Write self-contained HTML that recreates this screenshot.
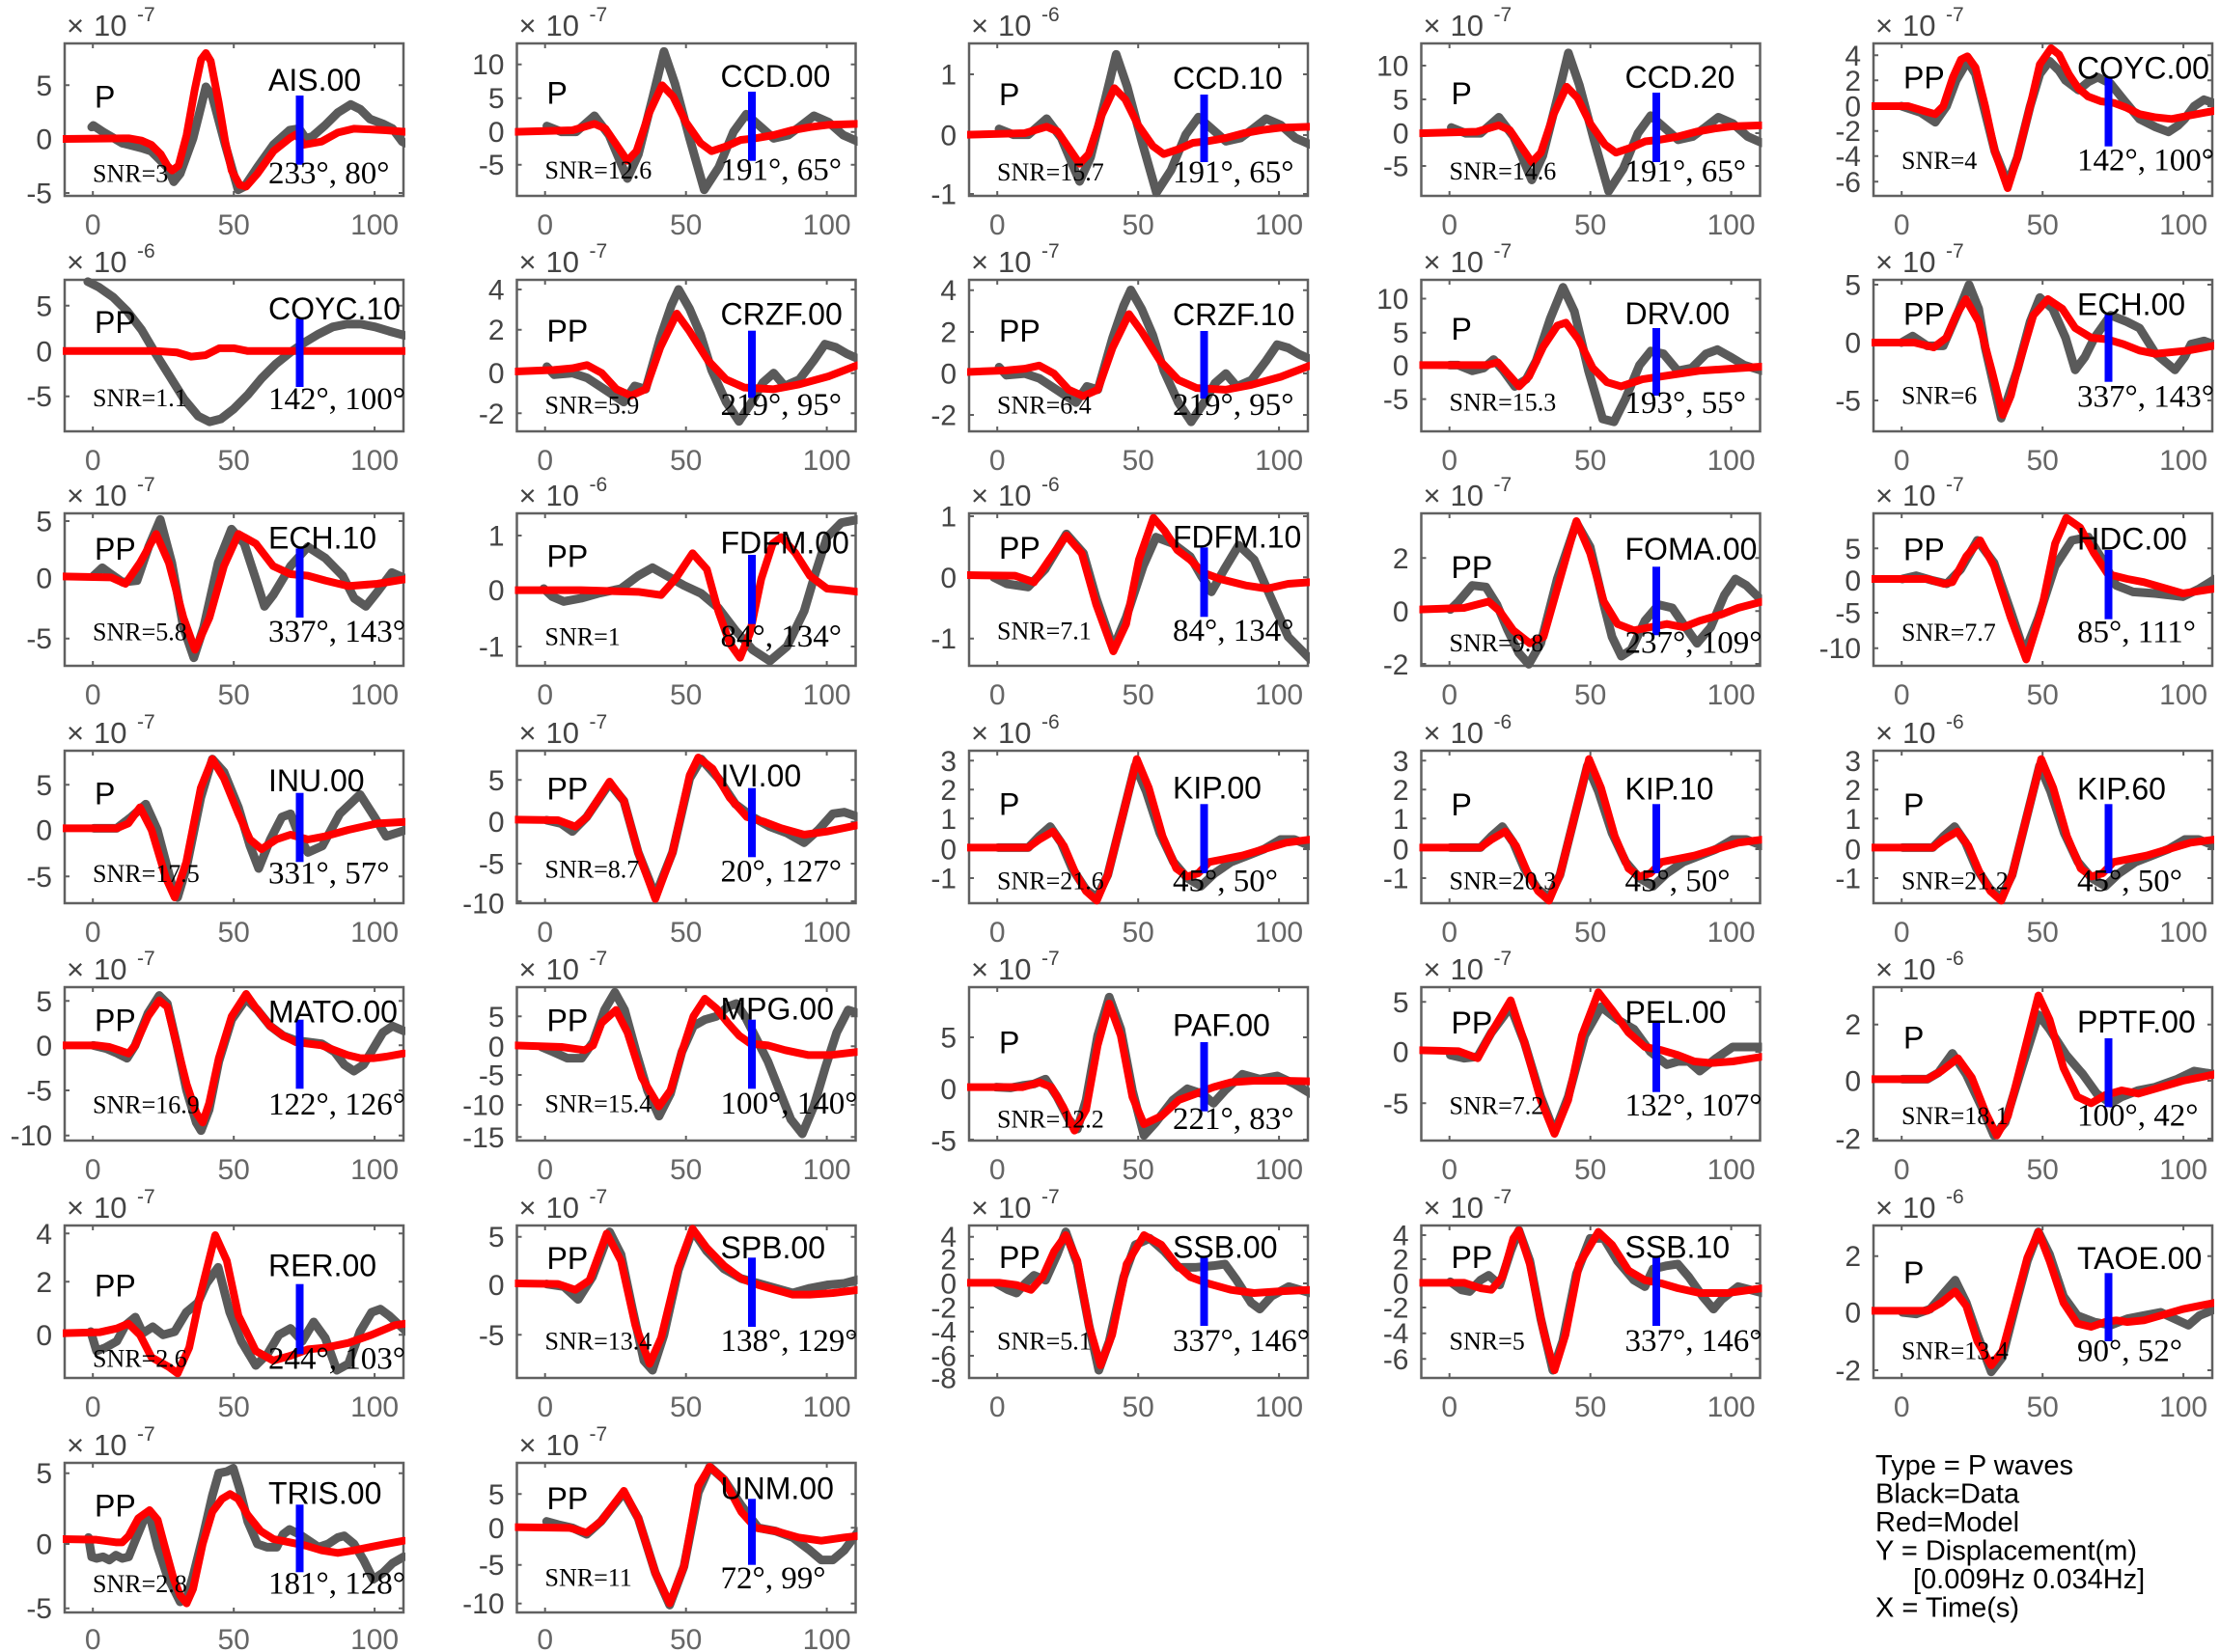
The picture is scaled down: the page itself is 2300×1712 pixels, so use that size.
<!DOCTYPE html>
<html><head><meta charset="utf-8">
<style>
html,body{margin:0;padding:0;background:#fff}
svg{display:block}
.g{fill:none;stroke:#5a5a5a;stroke-width:9;stroke-linejoin:round;stroke-linecap:round;vector-effect:non-scaling-stroke}
.r{fill:none;stroke:#ff0000;stroke-width:8;stroke-linejoin:round;stroke-linecap:round;vector-effect:non-scaling-stroke}
.bx{fill:none;stroke:#606060;stroke-width:2.5}
.tm{fill:none;stroke:#606060;stroke-width:2}
.bl{fill:#0000ff}
.yl{font-family:"Liberation Sans",sans-serif;font-size:30px;fill:#444;text-anchor:end}
.xl{font-family:"Liberation Sans",sans-serif;font-size:30px;fill:#666;text-anchor:middle}
.e1{font-family:"Liberation Sans",sans-serif;font-size:31px;fill:#444}
.e2{font-family:"Liberation Sans",sans-serif;font-size:21px;fill:#444}
.nm{font-family:"Liberation Sans",sans-serif;font-size:32px;fill:#000}
.sn{font-family:"Liberation Serif",serif;font-size:26px;fill:#000}
.az{font-family:"Liberation Serif",serif;font-size:33px;fill:#000}
.lg{font-family:"Liberation Sans",sans-serif;font-size:29px;fill:#000}
</style></head><body>
<svg width="2300" height="1712" viewBox="0 0 2300 1712" xmlns="http://www.w3.org/2000/svg">
<rect width="2300" height="1712" fill="#fff"/>
<defs>
<clipPath id="k00"><rect x="65" y="42" width="355" height="164"/></clipPath>
<clipPath id="k01"><rect x="533.5" y="42" width="355" height="164"/></clipPath>
<clipPath id="k02"><rect x="1002" y="42" width="355" height="164"/></clipPath>
<clipPath id="k03"><rect x="1470.5" y="42" width="355" height="164"/></clipPath>
<clipPath id="k04"><rect x="1939" y="42" width="355" height="164"/></clipPath>
<clipPath id="k10"><rect x="65" y="287" width="355" height="163"/></clipPath>
<clipPath id="k11"><rect x="533.5" y="287" width="355" height="163"/></clipPath>
<clipPath id="k12"><rect x="1002" y="287" width="355" height="163"/></clipPath>
<clipPath id="k13"><rect x="1470.5" y="287" width="355" height="163"/></clipPath>
<clipPath id="k14"><rect x="1939" y="287" width="355" height="163"/></clipPath>
<clipPath id="k20"><rect x="65" y="529" width="355" height="164"/></clipPath>
<clipPath id="k21"><rect x="533.5" y="529" width="355" height="164"/></clipPath>
<clipPath id="k22"><rect x="1002" y="529" width="355" height="164"/></clipPath>
<clipPath id="k23"><rect x="1470.5" y="529" width="355" height="164"/></clipPath>
<clipPath id="k24"><rect x="1939" y="529" width="355" height="164"/></clipPath>
<clipPath id="k30"><rect x="65" y="775" width="355" height="164"/></clipPath>
<clipPath id="k31"><rect x="533.5" y="775" width="355" height="164"/></clipPath>
<clipPath id="k32"><rect x="1002" y="775" width="355" height="164"/></clipPath>
<clipPath id="k33"><rect x="1470.5" y="775" width="355" height="164"/></clipPath>
<clipPath id="k34"><rect x="1939" y="775" width="355" height="164"/></clipPath>
<clipPath id="k40"><rect x="65" y="1020" width="355" height="165"/></clipPath>
<clipPath id="k41"><rect x="533.5" y="1020" width="355" height="165"/></clipPath>
<clipPath id="k42"><rect x="1002" y="1020" width="355" height="165"/></clipPath>
<clipPath id="k43"><rect x="1470.5" y="1020" width="355" height="165"/></clipPath>
<clipPath id="k44"><rect x="1939" y="1020" width="355" height="165"/></clipPath>
<clipPath id="k50"><rect x="65" y="1267" width="355" height="164"/></clipPath>
<clipPath id="k51"><rect x="533.5" y="1267" width="355" height="164"/></clipPath>
<clipPath id="k52"><rect x="1002" y="1267" width="355" height="164"/></clipPath>
<clipPath id="k53"><rect x="1470.5" y="1267" width="355" height="164"/></clipPath>
<clipPath id="k54"><rect x="1939" y="1267" width="355" height="164"/></clipPath>
<clipPath id="k60"><rect x="65" y="1513" width="355" height="161"/></clipPath>
<clipPath id="k61"><rect x="533.5" y="1513" width="355" height="161"/></clipPath>
</defs>

<!-- ================= ROW 0 ================= -->
<!-- AIS.00 -->
<rect class="bx" x="67" y="45" width="351" height="158"/>
<path class="tm" d="M96.2,203v-5M242.2,203v-5M388.1,203v-5M96.2,45v5M242.2,45v5M388.1,45v5M67,88.3h5M418,88.3h-5M67,144h5M418,144h-5M67,200h5M418,200h-5"/>
<g clip-path="url(#k00)"><g transform="matrix(0.33333,0,0,0.33333,0,0)">
<polyline class="g" points="285,395 290,390 320,410 380,445 440,460 470,470 520,520 540,565 560,540 600,430 640,270 660,300 700,450 740,590 760,580 800,520 850,450 900,405 930,400 950,430 970,425 1010,390 1050,350 1090,325 1120,340 1150,370 1190,385 1220,400 1250,440 1260,445"/>
<polyline class="r" points="195,432 400,430 440,437 470,450 500,480 520,515 535,530 555,515 580,420 605,280 625,185 640,165 655,190 680,320 700,440 720,530 745,575 765,580 800,540 850,470 900,430 920,418 945,450 1000,440 1050,412 1100,400 1200,405 1260,410"/>
</g></g>
<rect class="bl" x="306.5" y="99" width="8" height="71.7"/>
<text class="yl" x="54" y="98.8">5</text><text class="yl" x="54" y="154.5">0</text><text class="yl" x="54" y="210.5">-5</text>
<text class="xl" x="96.2" y="243">0</text><text class="xl" x="242.2" y="243">50</text><text class="xl" x="388.1" y="243">100</text>
<text class="e1" x="69" y="37">×</text><text class="e1" x="97" y="37">10</text><text class="e2" x="142" y="22">-7</text>
<text class="nm" x="278" y="94">AIS.00</text><text class="nm" x="98" y="111.7">P</text>
<text class="sn" x="96" y="188.3">SNR=3</text><text class="az" x="278" y="190">233°, 80°</text>

<!-- CCD.00 -->
<rect class="bx" x="535.5" y="45" width="351" height="158"/>
<path class="tm" d="M564.7,203v-5M710.7,203v-5M856.6,203v-5M564.7,45v5M710.7,45v5M856.6,45v5M535.5,66.7h5M886.5,66.7h-5M535.5,101.7h5M886.5,101.7h-5M535.5,136.7h5M886.5,136.7h-5M535.5,170.7h5M886.5,170.7h-5"/>
<g clip-path="url(#k01)"><g transform="matrix(0.37905,0,0,0.33333,403.6,0)">
<polyline class="g" points="430,392 470,410 510,410 560,360 600,420 650,555 680,480 720,300 750,160 780,260 820,430 860,590 900,520 940,410 975,355 1010,390 1050,430 1090,420 1120,395 1160,360 1200,380 1240,420 1280,440"/>
<polyline class="r" points="340,410 500,405 530,395 560,385 590,400 620,450 650,500 675,470 710,350 745,265 775,300 810,380 850,445 880,470 920,455 960,435 1000,430 1050,420 1100,405 1150,395 1200,388 1280,385"/>
</g></g>
<rect class="bl" x="775" y="95" width="8" height="71.7"/>
<text class="yl" x="522.5" y="77.2">10</text><text class="yl" x="522.5" y="112.2">5</text><text class="yl" x="522.5" y="147.2">0</text><text class="yl" x="522.5" y="181.2">-5</text>
<text class="xl" x="564.7" y="243">0</text><text class="xl" x="710.7" y="243">50</text><text class="xl" x="856.6" y="243">100</text>
<text class="e1" x="537.5" y="37">×</text><text class="e1" x="565.5" y="37">10</text><text class="e2" x="610.5" y="22">-7</text>
<text class="nm" x="746.5" y="90">CCD.00</text><text class="nm" x="566.5" y="107.3">P</text>
<text class="sn" x="564.5" y="185">SNR=12.6</text><text class="az" x="746.5" y="186.7">191°, 65°</text>

<!-- CCD.10 -->
<rect class="bx" x="1004" y="45" width="351" height="158"/>
<path class="tm" d="M1033.2,203v-5M1179.2,203v-5M1325.1,203v-5M1033.2,45v5M1179.2,45v5M1325.1,45v5M1004,77h5M1355,77h-5M1004,140h5M1355,140h-5M1004,201h5M1355,201h-5"/>
<g clip-path="url(#k02)"><g transform="matrix(0.37905,0,0,0.33333,872.1,3)">
<polyline class="g" points="430,392 470,410 510,410 560,360 600,420 650,555 680,480 720,300 750,160 780,260 820,430 860,590 900,520 940,410 975,355 1010,390 1050,430 1090,420 1120,395 1160,360 1200,380 1240,420 1280,440"/>
<polyline class="r" points="340,410 500,405 530,395 560,385 590,400 620,450 650,500 675,470 710,350 745,265 775,300 810,380 850,445 880,470 920,455 960,435 1000,430 1050,420 1100,405 1150,395 1200,388 1280,385"/>
</g></g>
<rect class="bl" x="1243.5" y="98" width="8" height="70"/>
<text class="yl" x="991" y="87.5">1</text><text class="yl" x="991" y="150.5">0</text><text class="yl" x="991" y="211.5">-1</text>
<text class="xl" x="1033.2" y="243">0</text><text class="xl" x="1179.2" y="243">50</text><text class="xl" x="1325.1" y="243">100</text>
<text class="e1" x="1006" y="37">×</text><text class="e1" x="1034" y="37">10</text><text class="e2" x="1079" y="22">-6</text>
<text class="nm" x="1215" y="92">CCD.10</text><text class="nm" x="1035" y="109">P</text>
<text class="sn" x="1033" y="187">SNR=15.7</text><text class="az" x="1215" y="189">191°, 65°</text>

<!-- CCD.20 -->
<rect class="bx" x="1472.5" y="45" width="351" height="158"/>
<path class="tm" d="M1501.7,203v-5M1647.7,203v-5M1793.6,203v-5M1501.7,45v5M1647.7,45v5M1793.6,45v5M1472.5,68h5M1823.5,68h-5M1472.5,103h5M1823.5,103h-5M1472.5,138h5M1823.5,138h-5M1472.5,172h5M1823.5,172h-5"/>
<g clip-path="url(#k03)"><g transform="matrix(0.37905,0,0,0.33333,1340.6,1.5)">
<polyline class="g" points="430,392 470,410 510,410 560,360 600,420 650,555 680,480 720,300 750,160 780,260 820,430 860,590 900,520 940,410 975,355 1010,390 1050,430 1090,420 1120,395 1160,360 1200,380 1240,420 1280,440"/>
<polyline class="r" points="340,410 500,405 530,395 560,385 590,400 620,450 650,500 675,470 710,350 745,265 775,300 810,380 850,445 880,470 920,455 960,435 1000,430 1050,420 1100,405 1150,395 1200,388 1280,385"/>
</g></g>
<rect class="bl" x="1712" y="96" width="8" height="72"/>
<text class="yl" x="1459.5" y="78.5">10</text><text class="yl" x="1459.5" y="113.5">5</text><text class="yl" x="1459.5" y="148.5">0</text><text class="yl" x="1459.5" y="182.5">-5</text>
<text class="xl" x="1501.7" y="243">0</text><text class="xl" x="1647.7" y="243">50</text><text class="xl" x="1793.6" y="243">100</text>
<text class="e1" x="1474.5" y="37">×</text><text class="e1" x="1502.5" y="37">10</text><text class="e2" x="1547.5" y="22">-7</text>
<text class="nm" x="1683.5" y="91">CCD.20</text><text class="nm" x="1503.5" y="108">P</text>
<text class="sn" x="1501.5" y="186">SNR=14.6</text><text class="az" x="1683.5" y="188">191°, 65°</text>

<!-- COYC.00 -->
<rect class="bx" x="1941" y="45" width="351" height="158"/>
<path class="tm" d="M1970.2,203v-5M2116.2,203v-5M2262.1,203v-5M1970.2,45v5M2116.2,45v5M2262.1,45v5M1941,57.3h5M2292,57.3h-5M1941,83.3h5M2292,83.3h-5M1941,110h5M2292,110h-5M1941,135.7h5M2292,135.7h-5M1941,161.7h5M2292,161.7h-5M1941,188.3h5M2292,188.3h-5"/>
<g clip-path="url(#k04)"><g transform="matrix(0.33333,0,0,0.33333,1850,0)">
<polyline class="g" points="360,330 420,350 465,380 500,330 530,250 565,190 590,230 620,350 650,470 690,570 720,490 760,330 790,230 820,190 850,220 870,250 910,280 940,255 970,240 1010,260 1050,310 1100,370 1150,395 1190,410 1220,390 1240,370 1270,330 1300,310 1330,320"/>
<polyline class="r" points="265,330 380,330 430,345 465,355 490,330 520,240 545,185 565,175 590,210 620,330 650,470 690,585 720,490 760,330 790,200 825,150 850,170 880,230 910,275 940,300 980,315 1020,320 1060,335 1100,355 1150,365 1200,370 1250,360 1330,345"/>
</g></g>
<rect class="bl" x="2180.5" y="80" width="8" height="71.7"/>
<text class="yl" x="1928" y="67.8">4</text><text class="yl" x="1928" y="93.8">2</text><text class="yl" x="1928" y="120.5">0</text><text class="yl" x="1928" y="146.2">-2</text><text class="yl" x="1928" y="172.2">-4</text><text class="yl" x="1928" y="198.8">-6</text>
<text class="xl" x="1970.2" y="243">0</text><text class="xl" x="2116.2" y="243">50</text><text class="xl" x="2262.1" y="243">100</text>
<text class="e1" x="1943" y="37">×</text><text class="e1" x="1971" y="37">10</text><text class="e2" x="2016" y="22">-7</text>
<text class="nm" x="2152" y="81.7">COYC.00</text><text class="nm" x="1972" y="91.7">PP</text>
<text class="sn" x="1970" y="175">SNR=4</text><text class="az" x="2152" y="176.7">142°, 100°</text>

<!-- ================= ROW 1 ================= -->
<!-- COYC.10 -->
<rect class="bx" x="67" y="290" width="351" height="157"/>
<path class="tm" d="M96.2,447v-5M242.2,447v-5M388.1,447v-5M96.2,290v5M242.2,290v5M388.1,290v5M67,316.8h5M418,316.8h-5M67,363.8h5M418,363.8h-5M67,410.7h5M418,410.7h-5"/>
<g clip-path="url(#k10)"><g transform="matrix(1.4668,0,0,1.4668,0,0)">
<polyline class="g" points="62,199 70,203 80,210 90,220 100,233 110,250 120,266 130,282 140,294 148,298 156,296 165,289 175,279 185,267 195,257 205,249 215,242 225,236 235,231 245,229 255,229 265,231 275,234 286,237"/>
<polyline class="r" points="44,248 110,248 125,249 135,252 145,251 155,246 165,246 175,248 286,248"/>
</g></g>
<rect class="bl" x="306.5" y="330" width="8" height="71"/>
<text class="yl" x="54" y="327.3">5</text><text class="yl" x="54" y="374.3">0</text><text class="yl" x="54" y="421.2">-5</text>
<text class="xl" x="96.2" y="487">0</text><text class="xl" x="242.2" y="487">50</text><text class="xl" x="388.1" y="487">100</text>
<text class="e1" x="69" y="282">×</text><text class="e1" x="97" y="282">10</text><text class="e2" x="142" y="267">-6</text>
<text class="nm" x="278" y="331">COYC.10</text><text class="nm" x="98" y="345">PP</text>
<text class="sn" x="96" y="421">SNR=1.1</text><text class="az" x="278" y="424">142°, 100°</text>

<!-- CRZF.00 -->
<rect class="bx" x="535.5" y="290" width="351" height="157"/>
<path class="tm" d="M564.7,447v-5M710.7,447v-5M856.6,447v-5M564.7,290v5M710.7,290v5M856.6,290v5M535.5,300h5M886.5,300h-5M535.5,341.7h5M886.5,341.7h-5M535.5,386.7h5M886.5,386.7h-5M535.5,428.3h5M886.5,428.3h-5"/>
<g clip-path="url(#k11)"><g transform="matrix(0.37905,0,0,0.33333,403.6,0)">
<polyline class="g" points="430,1140 450,1165 500,1160 540,1175 600,1220 640,1250 670,1200 700,1210 740,1050 770,950 790,900 820,960 850,1040 880,1150 920,1250 955,1310 990,1250 1020,1190 1050,1160 1080,1200 1120,1180 1160,1120 1190,1070 1220,1080 1250,1100 1280,1115"/>
<polyline class="r" points="340,1155 450,1150 500,1145 540,1135 580,1160 620,1210 660,1230 700,1210 740,1080 785,975 820,1030 870,1120 920,1180 970,1205 1050,1210 1120,1195 1200,1170 1280,1135"/>
</g></g>
<rect class="bl" x="775" y="342.7" width="8" height="69.6"/>
<text class="yl" x="522.5" y="310.5">4</text><text class="yl" x="522.5" y="352.2">2</text><text class="yl" x="522.5" y="397.2">0</text><text class="yl" x="522.5" y="438.8">-2</text>
<text class="xl" x="564.7" y="487">0</text><text class="xl" x="710.7" y="487">50</text><text class="xl" x="856.6" y="487">100</text>
<text class="e1" x="537.5" y="282">×</text><text class="e1" x="565.5" y="282">10</text><text class="e2" x="610.5" y="267">-7</text>
<text class="nm" x="746.5" y="336.7">CRZF.00</text><text class="nm" x="566.5" y="354">PP</text>
<text class="sn" x="564.5" y="428.3">SNR=5.9</text><text class="az" x="746.5" y="430">219°, 95°</text>

<!-- CRZF.10 -->
<rect class="bx" x="1004" y="290" width="351" height="157"/>
<path class="tm" d="M1033.2,447v-5M1179.2,447v-5M1325.1,447v-5M1033.2,290v5M1179.2,290v5M1325.1,290v5M1004,300.7h5M1355,300.7h-5M1004,344h5M1355,344h-5M1004,387h5M1355,387h-5M1004,430h5M1355,430h-5"/>
<g clip-path="url(#k12)"><g transform="matrix(0.37905,0,0,0.33333,872.1,0.5)">
<polyline class="g" points="430,1140 450,1165 500,1160 540,1175 600,1220 640,1250 670,1200 700,1210 740,1050 770,950 790,900 820,960 850,1040 880,1150 920,1250 955,1310 990,1250 1020,1190 1050,1160 1080,1200 1120,1180 1160,1120 1190,1070 1220,1080 1250,1100 1280,1115"/>
<polyline class="r" points="340,1155 450,1150 500,1145 540,1135 580,1160 620,1210 660,1230 700,1210 740,1080 785,975 820,1030 870,1120 920,1180 970,1205 1050,1210 1120,1195 1200,1170 1280,1135"/>
</g></g>
<rect class="bl" x="1243.5" y="343" width="8" height="70"/>
<text class="yl" x="991" y="311.2">4</text><text class="yl" x="991" y="354.5">2</text><text class="yl" x="991" y="397.5">0</text><text class="yl" x="991" y="440.5">-2</text>
<text class="xl" x="1033.2" y="487">0</text><text class="xl" x="1179.2" y="487">50</text><text class="xl" x="1325.1" y="487">100</text>
<text class="e1" x="1006" y="282">×</text><text class="e1" x="1034" y="282">10</text><text class="e2" x="1079" y="267">-7</text>
<text class="nm" x="1215" y="337">CRZF.10</text><text class="nm" x="1035" y="354">PP</text>
<text class="sn" x="1033" y="428.5">SNR=6.4</text><text class="az" x="1215" y="430">219°, 95°</text>

<!-- DRV.00 -->
<rect class="bx" x="1472.5" y="290" width="351" height="157"/>
<path class="tm" d="M1501.7,447v-5M1647.7,447v-5M1793.6,447v-5M1501.7,290v5M1647.7,290v5M1793.6,290v5M1472.5,309.5h5M1823.5,309.5h-5M1472.5,344.7h5M1823.5,344.7h-5M1472.5,378.4h5M1823.5,378.4h-5M1472.5,413.6h5M1823.5,413.6h-5"/>
<g clip-path="url(#k13)"><g transform="matrix(1.4668,0,0,1.4668,0,0)">
<polyline class="g" points="1024,258 1030,258 1040,262 1048,260 1055,254 1062,262 1070,273 1078,268 1085,255 1095,225 1104,203 1112,220 1122,262 1132,296 1140,298 1148,282 1158,258 1166,248 1175,250 1185,262 1195,260 1205,250 1213,247 1222,252 1232,258 1245,262"/>
<polyline class="r" points="1002,258 1050,258 1058,256 1065,264 1073,273 1080,266 1090,245 1100,230 1106,228 1115,240 1125,260 1135,270 1145,273 1160,268 1180,265 1200,262 1245,259"/>
</g></g>
<rect class="bl" x="1712" y="340" width="8" height="70"/>
<text class="yl" x="1459.5" y="320">10</text><text class="yl" x="1459.5" y="355.2">5</text><text class="yl" x="1459.5" y="388.9">0</text><text class="yl" x="1459.5" y="424.1">-5</text>
<text class="xl" x="1501.7" y="487">0</text><text class="xl" x="1647.7" y="487">50</text><text class="xl" x="1793.6" y="487">100</text>
<text class="e1" x="1474.5" y="282">×</text><text class="e1" x="1502.5" y="282">10</text><text class="e2" x="1547.5" y="267">-7</text>
<text class="nm" x="1683.5" y="336">DRV.00</text><text class="nm" x="1503.5" y="352">P</text>
<text class="sn" x="1501.5" y="425.4">SNR=15.3</text><text class="az" x="1683.5" y="428">193°, 55°</text>

<!-- ECH.00 -->
<rect class="bx" x="1941" y="290" width="351" height="157"/>
<path class="tm" d="M1970.2,447v-5M2116.2,447v-5M2262.1,447v-5M1970.2,290v5M2116.2,290v5M2262.1,290v5M1941,295h5M2292,295h-5M1941,355h5M2292,355h-5M1941,415h5M2292,415h-5"/>
<g clip-path="url(#k14)"><g transform="matrix(0.33333,0,0,0.33333,1850,0)">
<polyline class="g" points="360,1065 395,1045 440,1075 490,1075 540,960 570,885 600,960 620,1080 670,1300 720,1150 760,1000 790,925 830,960 870,1050 900,1150 930,1110 960,1050 1010,980 1060,1000 1100,1020 1150,1100 1210,1150 1240,1110 1260,1070 1300,1060 1330,1070"/>
<polyline class="r" points="265,1065 400,1065 460,1080 500,1050 530,980 560,930 600,1000 640,1150 675,1290 700,1230 720,1150 770,980 815,930 860,960 900,1020 950,1050 1000,1055 1050,1070 1100,1090 1150,1100 1250,1090 1330,1075"/>
</g></g>
<rect class="bl" x="2180.5" y="326" width="8" height="69.7"/>
<text class="yl" x="1928" y="305.5">5</text><text class="yl" x="1928" y="365.5">0</text><text class="yl" x="1928" y="425.5">-5</text>
<text class="xl" x="1970.2" y="487">0</text><text class="xl" x="2116.2" y="487">50</text><text class="xl" x="2262.1" y="487">100</text>
<text class="e1" x="1943" y="282">×</text><text class="e1" x="1971" y="282">10</text><text class="e2" x="2016" y="267">-7</text>
<text class="nm" x="2152" y="326.7">ECH.00</text><text class="nm" x="1972" y="336.7">PP</text>
<text class="sn" x="1970" y="418.3">SNR=6</text><text class="az" x="2152" y="421.7">337°, 143°</text>

<!-- ================= ROW 2 ================= -->
<!-- ECH.10 -->
<rect class="bx" x="67" y="532" width="351" height="158"/>
<path class="tm" d="M96.2,690v-5M242.2,690v-5M388.1,690v-5M96.2,532v5M242.2,532v5M388.1,532v5M67,540h5M418,540h-5M67,599h5M418,599h-5M67,661.7h5M418,661.7h-5"/>
<g clip-path="url(#k20)"><g transform="matrix(0.6,0,0,0.33333,1,500)">
<polyline class="g" points="160,290 175,265 190,285 210,310 235,305 255,200 275,115 295,250 315,450 333,545 350,450 375,250 398,145 420,190 440,300 455,385 470,350 500,260 530,200 560,235 590,290 610,360 630,385 650,340 675,280 700,300"/>
<polyline class="r" points="105,292 190,295 215,315 240,250 268,160 290,250 315,420 335,520 360,420 385,260 410,160 440,190 470,260 500,285 530,290 560,305 600,322 650,315 700,300"/>
</g></g>
<rect class="bl" x="306.5" y="568.3" width="8" height="71.7"/>
<text class="yl" x="54" y="550.5">5</text><text class="yl" x="54" y="609.5">0</text><text class="yl" x="54" y="672.2">-5</text>
<text class="xl" x="96.2" y="730">0</text><text class="xl" x="242.2" y="730">50</text><text class="xl" x="388.1" y="730">100</text>
<text class="e1" x="69" y="524">×</text><text class="e1" x="97" y="524">10</text><text class="e2" x="142" y="509">-7</text>
<text class="nm" x="278" y="568.3">ECH.10</text><text class="nm" x="98" y="580">PP</text>
<text class="sn" x="96" y="663.3">SNR=5.8</text><text class="az" x="278" y="665">337°, 143°</text>

<!-- FDFM.00 -->
<rect class="bx" x="535.5" y="532" width="351" height="158"/>
<path class="tm" d="M564.7,690v-5M710.7,690v-5M856.6,690v-5M564.7,532v5M710.7,532v5M856.6,532v5M535.5,555h5M886.5,555h-5M535.5,611.7h5M886.5,611.7h-5M535.5,670h5M886.5,670h-5"/>
<g clip-path="url(#k21)"><g transform="matrix(0.5929,0,0,0.33333,9,500)">
<polyline class="g" points="935,330 950,355 970,370 1000,360 1030,345 1070,330 1100,290 1125,265 1150,290 1180,320 1210,345 1240,390 1270,460 1300,520 1330,555 1360,510 1390,400 1410,280 1430,170 1455,125 1485,115"/>
<polyline class="r" points="883,335 1000,335 1100,340 1140,350 1165,300 1195,220 1220,270 1240,400 1260,500 1278,545 1295,470 1315,300 1335,190 1350,170 1375,220 1400,290 1430,330 1460,335 1485,340"/>
</g></g>
<rect class="bl" x="775" y="575" width="8" height="71.7"/>
<text class="yl" x="522.5" y="565.5">1</text><text class="yl" x="522.5" y="622.2">0</text><text class="yl" x="522.5" y="680.5">-1</text>
<text class="xl" x="564.7" y="730">0</text><text class="xl" x="710.7" y="730">50</text><text class="xl" x="856.6" y="730">100</text>
<text class="e1" x="537.5" y="524">×</text><text class="e1" x="565.5" y="524">10</text><text class="e2" x="610.5" y="509">-6</text>
<text class="nm" x="746.5" y="573.3">FDFM.00</text><text class="nm" x="566.5" y="587.3">PP</text>
<text class="sn" x="564.5" y="668.3">SNR=1</text><text class="az" x="746.5" y="670">84°, 134°</text>

<!-- FDFM.10 -->
<rect class="bx" x="1004" y="532" width="351" height="158"/>
<path class="tm" d="M1033.2,690v-5M1179.2,690v-5M1325.1,690v-5M1033.2,532v5M1179.2,532v5M1325.1,532v5M1004,535h5M1355,535h-5M1004,598.3h5M1355,598.3h-5M1004,661.7h5M1355,661.7h-5"/>
<g clip-path="url(#k22)"><g transform="matrix(0.8841,0,0,0.33333,477.1,480)">
<polyline class="g" points="625,355 640,375 665,385 685,330 710,220 730,280 745,420 765,575 780,480 800,320 815,230 835,250 855,290 868,350 880,400 895,330 912,255 930,300 950,420 970,540 996,610"/>
<polyline class="r" points="592,348 650,350 672,370 690,300 710,225 728,280 745,440 765,585 780,500 795,300 812,170 825,210 840,270 855,300 870,340 890,360 920,380 945,390 970,375 996,370"/>
</g></g>
<rect class="bl" x="1243.5" y="567.3" width="8" height="72"/>
<text class="yl" x="991" y="545.5">1</text><text class="yl" x="991" y="608.8">0</text><text class="yl" x="991" y="672.2">-1</text>
<text class="xl" x="1033.2" y="730">0</text><text class="xl" x="1179.2" y="730">50</text><text class="xl" x="1325.1" y="730">100</text>
<text class="e1" x="1006" y="524">×</text><text class="e1" x="1034" y="524">10</text><text class="e2" x="1079" y="509">-6</text>
<text class="nm" x="1215" y="567.3">FDFM.10</text><text class="nm" x="1035" y="579">PP</text>
<text class="sn" x="1033" y="662.7">SNR=7.1</text><text class="az" x="1215" y="664">84°, 134°</text>

<!-- FOMA.00 -->
<rect class="bx" x="1472.5" y="532" width="351" height="158"/>
<path class="tm" d="M1501.7,690v-5M1647.7,690v-5M1793.6,690v-5M1501.7,532v5M1647.7,532v5M1793.6,532v5M1472.5,578.3h5M1823.5,578.3h-5M1472.5,633.3h5M1823.5,633.3h-5M1472.5,688h5M1823.5,688h-5"/>
<g clip-path="url(#k23)"><g transform="matrix(0.56796,0,0,0.33333,1403.2,500)">
<polyline class="g" points="175,395 190,370 215,320 240,325 260,380 280,460 300,530 318,565 340,500 370,300 405,125 430,200 455,380 470,480 487,540 505,520 530,430 555,380 580,390 600,440 625,500 650,450 675,350 695,300 715,320 745,370"/>
<polyline class="r" points="117,395 200,390 245,370 265,400 290,460 320,500 345,480 375,300 405,120 430,220 455,370 480,440 510,460 540,450 570,440 600,450 630,430 670,410 700,390 745,370"/>
</g></g>
<rect class="bl" x="1712" y="587.3" width="8" height="71"/>
<text class="yl" x="1459.5" y="588.8">2</text><text class="yl" x="1459.5" y="643.8">0</text><text class="yl" x="1459.5" y="699">-2</text>
<text class="xl" x="1501.7" y="730">0</text><text class="xl" x="1647.7" y="730">50</text><text class="xl" x="1793.6" y="730">100</text>
<text class="e1" x="1474.5" y="524">×</text><text class="e1" x="1502.5" y="524">10</text><text class="e2" x="1547.5" y="509">-7</text>
<text class="nm" x="1683.5" y="580">FOMA.00</text><text class="nm" x="1503.5" y="599">PP</text>
<text class="sn" x="1501.5" y="675">SNR=9.8</text><text class="az" x="1683.5" y="676.7">237°, 109°</text>

<!-- HDC.00 -->
<rect class="bx" x="1941" y="532" width="351" height="158"/>
<path class="tm" d="M1970.2,690v-5M2116.2,690v-5M2262.1,690v-5M1970.2,532v5M2116.2,532v5M2262.1,532v5M1941,568.3h5M2292,568.3h-5M1941,601.7h5M2292,601.7h-5M1941,635h5M2292,635h-5M1941,671.7h5M2292,671.7h-5"/>
<g clip-path="url(#k24)"><g transform="matrix(0.57541,0,0,0.33333,1398.4,500)">
<polyline class="g" points="995,300 1020,290 1050,305 1075,315 1100,270 1130,180 1160,250 1190,400 1215,530 1240,420 1270,260 1300,180 1330,170 1355,240 1380,320 1410,340 1450,345 1500,355 1530,330 1558,300"/>
<polyline class="r" points="938,300 1040,300 1070,315 1085,310 1110,230 1135,180 1160,260 1190,420 1218,550 1245,400 1270,190 1290,110 1315,140 1340,220 1365,285 1400,300 1430,310 1470,330 1500,345 1558,330"/>
</g></g>
<rect class="bl" x="2180.5" y="570" width="8" height="71.7"/>
<text class="yl" x="1928" y="578.8">5</text><text class="yl" x="1928" y="612.2">0</text><text class="yl" x="1928" y="645.5">-5</text><text class="yl" x="1928" y="682.2">-10</text>
<text class="xl" x="1970.2" y="730">0</text><text class="xl" x="2116.2" y="730">50</text><text class="xl" x="2262.1" y="730">100</text>
<text class="e1" x="1943" y="524">×</text><text class="e1" x="1971" y="524">10</text><text class="e2" x="2016" y="509">-7</text>
<text class="nm" x="2152" y="569.3">HDC.00</text><text class="nm" x="1972" y="580.7">PP</text>
<text class="sn" x="1970" y="664">SNR=7.7</text><text class="az" x="2152" y="665.7">85°, 111°</text>

<!-- ================= ROW 3 ================= -->
<!-- INU.00 -->
<rect class="bx" x="67" y="778" width="351" height="158"/>
<path class="tm" d="M96.2,936v-5M242.2,936v-5M388.1,936v-5M96.2,778v5M242.2,778v5M388.1,778v5M67,813.3h5M418,813.3h-5M67,860h5M418,860h-5M67,908.3h5M418,908.3h-5"/>
<g clip-path="url(#k30)"><g transform="matrix(0.6,0,0,0.33333,1,500)">
<polyline class="g" points="160,1075 200,1075 225,1040 250,1000 270,1080 295,1250 305,1290 320,1200 345,980 365,860 385,900 410,1010 430,1130 445,1200 465,1110 485,1040 500,1030 515,1100 530,1150 555,1130 585,1030 620,970 645,1040 665,1100 700,1080"/>
<polyline class="r" points="105,1075 200,1075 220,1060 240,1010 260,1080 285,1230 300,1290 320,1180 345,950 365,860 385,920 410,1030 430,1110 450,1140 475,1110 500,1095 530,1110 560,1100 600,1080 650,1060 700,1055"/>
</g></g>
<rect class="bl" x="306.5" y="821.7" width="8" height="71.6"/>
<text class="yl" x="54" y="823.8">5</text><text class="yl" x="54" y="870.5">0</text><text class="yl" x="54" y="918.8">-5</text>
<text class="xl" x="96.2" y="976">0</text><text class="xl" x="242.2" y="976">50</text><text class="xl" x="388.1" y="976">100</text>
<text class="e1" x="69" y="770">×</text><text class="e1" x="97" y="770">10</text><text class="e2" x="142" y="755">-7</text>
<text class="nm" x="278" y="820">INU.00</text><text class="nm" x="98" y="833.3">P</text>
<text class="sn" x="96" y="914">SNR=17.5</text><text class="az" x="278" y="915.7">331°, 57°</text>

<!-- IVI.00 -->
<rect class="bx" x="535.5" y="778" width="351" height="158"/>
<path class="tm" d="M564.7,936v-5M710.7,936v-5M856.6,936v-5M564.7,778v5M710.7,778v5M856.6,778v5M535.5,808.3h5M886.5,808.3h-5M535.5,851.7h5M886.5,851.7h-5M535.5,895h5M886.5,895h-5M535.5,934h5M886.5,934h-5"/>
<g clip-path="url(#k31)"><g transform="matrix(0.5929,0,0,0.33333,9,500)">
<polyline class="g" points="940,1050 965,1060 985,1085 1010,1040 1050,935 1075,990 1100,1150 1130,1285 1160,1150 1190,920 1210,860 1240,920 1270,1000 1300,1040 1330,1070 1360,1090 1390,1120 1415,1080 1440,1030 1460,1025 1485,1040"/>
<polyline class="r" points="883,1048 960,1050 990,1070 1010,1040 1050,930 1075,990 1100,1150 1130,1295 1160,1150 1190,910 1205,855 1230,890 1260,980 1290,1040 1320,1055 1350,1075 1390,1095 1430,1085 1485,1065"/>
</g></g>
<rect class="bl" x="775" y="816.7" width="8" height="71.6"/>
<text class="yl" x="522.5" y="818.8">5</text><text class="yl" x="522.5" y="862.2">0</text><text class="yl" x="522.5" y="905.5">-5</text><text class="yl" x="522.5" y="946.5">-10</text>
<text class="xl" x="564.7" y="976">0</text><text class="xl" x="710.7" y="976">50</text><text class="xl" x="856.6" y="976">100</text>
<text class="e1" x="537.5" y="770">×</text><text class="e1" x="565.5" y="770">10</text><text class="e2" x="610.5" y="755">-7</text>
<text class="nm" x="746.5" y="815">IVI.00</text><text class="nm" x="566.5" y="828.3">PP</text>
<text class="sn" x="564.5" y="909.3">SNR=8.7</text><text class="az" x="746.5" y="913.3">20°, 127°</text>

<!-- KIP.00 -->
<rect class="bx" x="1004" y="778" width="351" height="158"/>
<path class="tm" d="M1033.2,936v-5M1179.2,936v-5M1325.1,936v-5M1033.2,778v5M1179.2,778v5M1325.1,778v5M1004,788.3h5M1355,788.3h-5M1004,818.3h5M1355,818.3h-5M1004,848.3h5M1355,848.3h-5M1004,880h5M1355,880h-5M1004,910h5M1355,910h-5"/>
<g clip-path="url(#k32)"><g transform="matrix(0.56796,0,0,0.33333,934.7,500)">
<polyline class="g" points="175,1135 230,1135 250,1100 270,1070 290,1120 310,1200 335,1265 355,1290 375,1220 400,1050 425,880 445,960 470,1090 495,1180 520,1230 545,1255 570,1215 600,1180 630,1160 660,1140 690,1110 715,1110 745,1130"/>
<polyline class="r" points="117,1135 230,1135 250,1110 275,1085 295,1130 315,1210 335,1270 355,1300 375,1220 400,1050 428,860 450,950 475,1100 500,1200 520,1225 540,1215 560,1180 590,1170 620,1160 660,1140 700,1120 745,1110"/>
</g></g>
<rect class="bl" x="1243.5" y="833.3" width="8" height="71.7"/>
<text class="yl" x="991" y="798.8">3</text><text class="yl" x="991" y="828.8">2</text><text class="yl" x="991" y="858.8">1</text><text class="yl" x="991" y="890.5">0</text><text class="yl" x="991" y="920.5">-1</text>
<text class="xl" x="1033.2" y="976">0</text><text class="xl" x="1179.2" y="976">50</text><text class="xl" x="1325.1" y="976">100</text>
<text class="e1" x="1006" y="770">×</text><text class="e1" x="1034" y="770">10</text><text class="e2" x="1079" y="755">-6</text>
<text class="nm" x="1215" y="827.7">KIP.00</text><text class="nm" x="1035" y="844.3">P</text>
<text class="sn" x="1033" y="921.7">SNR=21.6</text><text class="az" x="1215" y="923.3">45°, 50°</text>

<!-- KIP.10 -->
<rect class="bx" x="1472.5" y="778" width="351" height="158"/>
<path class="tm" d="M1501.7,936v-5M1647.7,936v-5M1793.6,936v-5M1501.7,778v5M1647.7,778v5M1793.6,778v5M1472.5,788.3h5M1823.5,788.3h-5M1472.5,818.3h5M1823.5,818.3h-5M1472.5,848.3h5M1823.5,848.3h-5M1472.5,880h5M1823.5,880h-5M1472.5,910h5M1823.5,910h-5"/>
<g clip-path="url(#k33)"><g transform="matrix(0.56796,0,0,0.33333,1403.2,500)">
<polyline class="g" points="175,1135 230,1135 250,1100 270,1070 290,1120 310,1200 335,1265 355,1290 375,1220 400,1050 425,880 445,960 470,1090 495,1180 520,1230 545,1255 570,1215 600,1180 630,1160 660,1140 690,1110 715,1110 745,1130"/>
<polyline class="r" points="117,1135 230,1135 250,1110 275,1085 295,1130 315,1210 335,1270 355,1300 375,1220 400,1050 428,860 450,950 475,1100 500,1200 520,1225 540,1215 560,1180 590,1170 620,1160 660,1140 700,1120 745,1110"/>
</g></g>
<rect class="bl" x="1712" y="833.3" width="8" height="71.7"/>
<text class="yl" x="1459.5" y="798.8">3</text><text class="yl" x="1459.5" y="828.8">2</text><text class="yl" x="1459.5" y="858.8">1</text><text class="yl" x="1459.5" y="890.5">0</text><text class="yl" x="1459.5" y="920.5">-1</text>
<text class="xl" x="1501.7" y="976">0</text><text class="xl" x="1647.7" y="976">50</text><text class="xl" x="1793.6" y="976">100</text>
<text class="e1" x="1474.5" y="770">×</text><text class="e1" x="1502.5" y="770">10</text><text class="e2" x="1547.5" y="755">-6</text>
<text class="nm" x="1683.5" y="828.3">KIP.10</text><text class="nm" x="1503.5" y="845">P</text>
<text class="sn" x="1501.5" y="921.7">SNR=20.3</text><text class="az" x="1683.5" y="923.3">45°, 50°</text>

<!-- KIP.60 -->
<rect class="bx" x="1941" y="778" width="351" height="158"/>
<path class="tm" d="M1970.2,936v-5M2116.2,936v-5M2262.1,936v-5M1970.2,778v5M2116.2,778v5M2262.1,778v5M1941,788.3h5M2292,788.3h-5M1941,818.3h5M2292,818.3h-5M1941,848.3h5M2292,848.3h-5M1941,880h5M2292,880h-5M1941,910h5M2292,910h-5"/>
<g clip-path="url(#k34)"><g transform="matrix(0.56796,0,0,0.33333,1871.7,500)">
<polyline class="g" points="175,1135 230,1135 250,1100 270,1070 290,1120 310,1200 335,1265 355,1290 375,1220 400,1050 425,880 445,960 470,1090 495,1180 520,1230 545,1255 570,1215 600,1180 630,1160 660,1140 690,1110 715,1110 745,1130"/>
<polyline class="r" points="117,1135 230,1135 250,1110 275,1085 295,1130 315,1210 335,1270 355,1300 375,1220 400,1050 428,860 450,950 475,1100 500,1200 520,1225 540,1215 560,1180 590,1170 620,1160 660,1140 700,1120 745,1110"/>
</g></g>
<rect class="bl" x="2180.5" y="833.3" width="8" height="71.7"/>
<text class="yl" x="1928" y="798.8">3</text><text class="yl" x="1928" y="828.8">2</text><text class="yl" x="1928" y="858.8">1</text><text class="yl" x="1928" y="890.5">0</text><text class="yl" x="1928" y="920.5">-1</text>
<text class="xl" x="1970.2" y="976">0</text><text class="xl" x="2116.2" y="976">50</text><text class="xl" x="2262.1" y="976">100</text>
<text class="e1" x="1943" y="770">×</text><text class="e1" x="1971" y="770">10</text><text class="e2" x="2016" y="755">-6</text>
<text class="nm" x="2152" y="828.3">KIP.60</text><text class="nm" x="1972" y="845">P</text>
<text class="sn" x="1970" y="921.7">SNR=21.2</text><text class="az" x="2152" y="923.3">45°, 50°</text>

<!-- ================= ROW 4 ================= -->
<!-- MATO.00 -->
<rect class="bx" x="67" y="1023" width="351" height="159"/>
<path class="tm" d="M96.2,1182v-5M242.2,1182v-5M388.1,1182v-5M96.2,1023v5M242.2,1023v5M388.1,1023v5M67,1037.3h5M418,1037.3h-5M67,1083.3h5M418,1083.3h-5M67,1130h5M418,1130h-5M67,1176.7h5M418,1176.7h-5"/>
<g clip-path="url(#k40)"><g transform="matrix(0.33333,0,0,0.33333,0,950)">
<polyline class="g" points="290,400 330,410 365,425 395,440 420,400 460,300 495,245 520,270 550,400 580,540 610,640 625,665 650,600 680,450 720,320 765,255 800,290 840,340 880,370 920,385 960,390 1000,395 1040,420 1070,460 1100,480 1130,460 1160,410 1190,360 1220,340 1255,355"/>
<polyline class="r" points="195,400 300,400 340,405 370,415 400,425 420,400 460,310 495,260 520,280 550,400 580,520 610,610 630,640 650,580 680,440 720,310 765,240 800,290 840,340 880,370 920,390 960,395 1000,400 1040,415 1080,430 1120,440 1160,440 1200,435 1255,425"/>
</g></g>
<rect class="bl" x="306.5" y="1056.7" width="8" height="71.6"/>
<text class="yl" x="54" y="1047.8">5</text><text class="yl" x="54" y="1093.8">0</text><text class="yl" x="54" y="1140.5">-5</text><text class="yl" x="54" y="1187.2">-10</text>
<text class="xl" x="96.2" y="1222">0</text><text class="xl" x="242.2" y="1222">50</text><text class="xl" x="388.1" y="1222">100</text>
<text class="e1" x="69" y="1015">×</text><text class="e1" x="97" y="1015">10</text><text class="e2" x="142" y="1000">-7</text>
<text class="nm" x="278" y="1059.3">MATO.00</text><text class="nm" x="98" y="1068.3">PP</text>
<text class="sn" x="96" y="1153.3">SNR=16.9</text><text class="az" x="278" y="1155">122°, 126°</text>

<!-- MPG.00 -->
<rect class="bx" x="535.5" y="1023" width="351" height="159"/>
<path class="tm" d="M564.7,1182v-5M710.7,1182v-5M856.6,1182v-5M564.7,1023v5M710.7,1023v5M856.6,1023v5M535.5,1053.3h5M886.5,1053.3h-5M535.5,1084.3h5M886.5,1084.3h-5M535.5,1114h5M886.5,1114h-5M535.5,1145h5M886.5,1145h-5M535.5,1178.3h5M886.5,1178.3h-5"/>
<g clip-path="url(#k41)"><g transform="matrix(0.5939,0,0,0.33333,463,990)">
<polyline class="g" points="165,285 185,300 210,320 235,320 255,270 275,170 293,115 310,170 330,300 350,420 370,500 390,430 410,300 430,220 450,200 470,190 490,160 505,150 520,190 540,260 560,330 580,420 600,510 620,555 640,470 660,350 680,240 700,170 718,180"/>
<polyline class="r" points="117,280 200,285 240,295 255,280 270,210 295,170 315,240 340,380 370,470 390,420 410,300 430,190 450,135 470,165 490,210 510,250 530,275 560,280 590,295 630,310 670,310 718,300"/>
</g></g>
<rect class="bl" x="775" y="1056.7" width="8" height="71.6"/>
<text class="yl" x="522.5" y="1063.8">5</text><text class="yl" x="522.5" y="1094.8">0</text><text class="yl" x="522.5" y="1124.5">-5</text><text class="yl" x="522.5" y="1155.5">-10</text><text class="yl" x="522.5" y="1188.8">-15</text>
<text class="xl" x="564.7" y="1222">0</text><text class="xl" x="710.7" y="1222">50</text><text class="xl" x="856.6" y="1222">100</text>
<text class="e1" x="537.5" y="1015">×</text><text class="e1" x="565.5" y="1015">10</text><text class="e2" x="610.5" y="1000">-7</text>
<text class="nm" x="746.5" y="1056.7">MPG.00</text><text class="nm" x="566.5" y="1068.3">PP</text>
<text class="sn" x="564.5" y="1152.7">SNR=15.4</text><text class="az" x="746.5" y="1154">100°, 140°</text>

<!-- PAF.00 -->
<rect class="bx" x="1004" y="1023" width="351" height="159"/>
<path class="tm" d="M1033.2,1182v-5M1179.2,1182v-5M1325.1,1182v-5M1033.2,1023v5M1179.2,1023v5M1325.1,1023v5M1004,1075h5M1355,1075h-5M1004,1128.3h5M1355,1128.3h-5M1004,1181h5M1355,1181h-5"/>
<g clip-path="url(#k42)"><g transform="matrix(0.6,0,0,0.33333,459.2,990)">
<polyline class="g" points="955,410 980,412 1000,405 1020,400 1040,385 1060,440 1080,510 1095,540 1110,450 1130,250 1150,130 1170,230 1190,420 1210,560 1230,520 1260,450 1285,415 1310,430 1330,460 1350,420 1380,370 1410,385 1440,375 1470,400 1498,430"/>
<polyline class="r" points="903,410 1000,410 1030,395 1050,410 1070,470 1090,545 1110,480 1130,280 1150,150 1170,250 1190,440 1210,525 1240,500 1270,450 1300,430 1330,410 1360,395 1400,390 1450,390 1498,392"/>
</g></g>
<rect class="bl" x="1243.5" y="1080" width="8" height="71.7"/>
<text class="yl" x="991" y="1085.5">5</text><text class="yl" x="991" y="1138.8">0</text><text class="yl" x="991" y="1192.5">-5</text>
<text class="xl" x="1033.2" y="1222">0</text><text class="xl" x="1179.2" y="1222">50</text><text class="xl" x="1325.1" y="1222">100</text>
<text class="e1" x="1006" y="1015">×</text><text class="e1" x="1034" y="1015">10</text><text class="e2" x="1079" y="1000">-7</text>
<text class="nm" x="1215" y="1073.3">PAF.00</text><text class="nm" x="1035" y="1091.7">P</text>
<text class="sn" x="1033" y="1168.3">SNR=12.2</text><text class="az" x="1215" y="1170">221°, 83°</text>

<!-- PEL.00 -->
<rect class="bx" x="1472.5" y="1023" width="351" height="159"/>
<path class="tm" d="M1501.7,1182v-5M1647.7,1182v-5M1793.6,1182v-5M1501.7,1023v5M1647.7,1023v5M1793.6,1023v5M1472.5,1038.3h5M1823.5,1038.3h-5M1472.5,1090h5M1823.5,1090h-5M1472.5,1143.3h5M1823.5,1143.3h-5"/>
<g clip-path="url(#k43)"><g transform="matrix(0.56796,0,0,0.33333,1403.2,990)">
<polyline class="g" points="175,310 200,320 225,315 250,240 285,160 310,270 340,440 365,550 390,440 420,250 450,160 480,200 510,230 540,300 570,340 590,330 610,330 630,360 660,320 690,285 745,285"/>
<polyline class="r" points="117,295 190,298 225,320 250,240 285,140 310,270 340,450 365,555 390,450 415,250 445,115 470,170 500,240 530,285 560,295 590,310 620,330 650,335 690,330 745,315"/>
</g></g>
<rect class="bl" x="1712" y="1059.3" width="8" height="72.4"/>
<text class="yl" x="1459.5" y="1048.8">5</text><text class="yl" x="1459.5" y="1100.5">0</text><text class="yl" x="1459.5" y="1153.8">-5</text>
<text class="xl" x="1501.7" y="1222">0</text><text class="xl" x="1647.7" y="1222">50</text><text class="xl" x="1793.6" y="1222">100</text>
<text class="e1" x="1474.5" y="1015">×</text><text class="e1" x="1502.5" y="1015">10</text><text class="e2" x="1547.5" y="1000">-7</text>
<text class="nm" x="1683.5" y="1060">PEL.00</text><text class="nm" x="1503.5" y="1071">PP</text>
<text class="sn" x="1501.5" y="1154.3">SNR=7.2</text><text class="az" x="1683.5" y="1156">132°, 107°</text>

<!-- PPTF.00 -->
<rect class="bx" x="1941" y="1023" width="351" height="159"/>
<path class="tm" d="M1970.2,1182v-5M2116.2,1182v-5M2262.1,1182v-5M1970.2,1023v5M2116.2,1023v5M2262.1,1023v5M1941,1061.7h5M2292,1061.7h-5M1941,1120h5M2292,1120h-5M1941,1180h5M2292,1180h-5"/>
<g clip-path="url(#k44)"><g transform="matrix(0.57541,0,0,0.33333,1398.4,990)">
<polyline class="g" points="995,385 1040,385 1060,365 1085,305 1110,370 1140,480 1160,560 1180,520 1210,350 1240,185 1260,230 1290,310 1320,370 1345,430 1370,460 1390,440 1420,420 1450,410 1490,385 1520,360 1558,370"/>
<polyline class="r" points="938,385 1040,385 1065,360 1095,320 1120,380 1145,490 1165,560 1185,500 1210,330 1240,125 1260,200 1285,350 1310,440 1335,460 1360,435 1390,420 1420,430 1460,410 1500,390 1558,370"/>
</g></g>
<rect class="bl" x="2180.5" y="1076" width="8" height="71.3"/>
<text class="yl" x="1928" y="1072.2">2</text><text class="yl" x="1928" y="1130.5">0</text><text class="yl" x="1928" y="1190.5">-2</text>
<text class="xl" x="1970.2" y="1222">0</text><text class="xl" x="2116.2" y="1222">50</text><text class="xl" x="2262.1" y="1222">100</text>
<text class="e1" x="1943" y="1015">×</text><text class="e1" x="1971" y="1015">10</text><text class="e2" x="2016" y="1000">-6</text>
<text class="nm" x="2152" y="1070">PPTF.00</text><text class="nm" x="1972" y="1086.7">P</text>
<text class="sn" x="1970" y="1165">SNR=18.1</text><text class="az" x="2152" y="1166.7">100°, 42°</text>

<!-- ================= ROW 5 ================= -->
<!-- RER.00 -->
<rect class="bx" x="67" y="1270" width="351" height="158"/>
<path class="tm" d="M96.2,1428v-5M242.2,1428v-5M388.1,1428v-5M96.2,1270v5M242.2,1270v5M388.1,1270v5M67,1278.3h5M418,1278.3h-5M67,1328.3h5M418,1328.3h-5M67,1383.3h5M418,1383.3h-5"/>
<g clip-path="url(#k50)"><g transform="matrix(0.6,0,0,0.33333,1,1240)">
<polyline class="g" points="155,420 165,480 180,470 200,450 215,400 232,375 245,425 262,405 280,430 300,420 320,360 340,330 355,270 375,220 395,360 415,450 440,525 460,490 480,430 500,410 520,450 540,390 560,440 580,540 600,520 620,420 640,360 655,350 670,370 700,420"/>
<polyline class="r" points="105,425 170,422 200,410 220,395 240,430 260,500 290,530 305,550 325,470 345,300 370,120 390,200 410,370 440,480 470,510 500,495 530,475 560,470 600,455 640,430 680,400 700,395"/>
</g></g>
<rect class="bl" x="306.5" y="1330.7" width="8" height="72.6"/>
<text class="yl" x="54" y="1288.8">4</text><text class="yl" x="54" y="1338.8">2</text><text class="yl" x="54" y="1393.8">0</text>
<text class="xl" x="96.2" y="1468">0</text><text class="xl" x="242.2" y="1468">50</text><text class="xl" x="388.1" y="1468">100</text>
<text class="e1" x="69" y="1262">×</text><text class="e1" x="97" y="1262">10</text><text class="e2" x="142" y="1247">-7</text>
<text class="nm" x="278" y="1322.7">RER.00</text><text class="nm" x="98" y="1343.3">PP</text>
<text class="sn" x="96" y="1416.7">SNR=2.6</text><text class="az" x="278" y="1418.3">244°, 103°</text>

<!-- SPB.00 -->
<rect class="bx" x="535.5" y="1270" width="351" height="158"/>
<path class="tm" d="M564.7,1428v-5M710.7,1428v-5M856.6,1428v-5M564.7,1270v5M710.7,1270v5M856.6,1270v5M535.5,1281.7h5M886.5,1281.7h-5M535.5,1331.7h5M886.5,1331.7h-5M535.5,1383.3h5M886.5,1383.3h-5"/>
<g clip-path="url(#k51)"><g transform="matrix(0.5929,0,0,0.33333,9,1240)">
<polyline class="g" points="940,272 970,280 995,320 1020,250 1050,110 1070,180 1090,350 1110,510 1125,540 1145,430 1170,230 1195,105 1220,170 1250,225 1280,255 1310,270 1340,285 1370,300 1400,285 1430,275 1460,270 1485,258"/>
<polyline class="r" points="883,270 960,272 990,290 1015,260 1045,115 1070,200 1095,400 1120,520 1140,440 1170,220 1195,100 1220,160 1250,215 1280,255 1310,275 1340,290 1370,305 1400,305 1440,300 1485,290"/>
</g></g>
<rect class="bl" x="775" y="1303.3" width="8" height="71.7"/>
<text class="yl" x="522.5" y="1292.2">5</text><text class="yl" x="522.5" y="1342.2">0</text><text class="yl" x="522.5" y="1393.8">-5</text>
<text class="xl" x="564.7" y="1468">0</text><text class="xl" x="710.7" y="1468">50</text><text class="xl" x="856.6" y="1468">100</text>
<text class="e1" x="537.5" y="1262">×</text><text class="e1" x="565.5" y="1262">10</text><text class="e2" x="610.5" y="1247">-7</text>
<text class="nm" x="746.5" y="1304">SPB.00</text><text class="nm" x="566.5" y="1315">PP</text>
<text class="sn" x="564.5" y="1398.3">SNR=13.4</text><text class="az" x="746.5" y="1400">138°, 129°</text>

<!-- SSB.00 -->
<rect class="bx" x="1004" y="1270" width="351" height="158"/>
<path class="tm" d="M1033.2,1428v-5M1179.2,1428v-5M1325.1,1428v-5M1033.2,1270v5M1179.2,1270v5M1325.1,1270v5M1004,1281.7h5M1355,1281.7h-5M1004,1305h5M1355,1305h-5M1004,1330h5M1355,1330h-5M1004,1355h5M1355,1355h-5M1004,1380h5M1355,1380h-5M1004,1405h5M1355,1405h-5"/>
<g clip-path="url(#k52)"><g transform="matrix(0.6,0,0,0.33333,459.2,990)">
<polyline class="g" points="955,1020 975,1040 990,1050 1005,1020 1020,995 1040,1010 1060,930 1075,860 1095,960 1115,1150 1132,1290 1150,1200 1175,1000 1195,900 1220,880 1245,920 1270,970 1300,970 1330,965 1350,960 1370,1010 1395,1080 1410,1100 1430,1060 1460,1030 1498,1050"/>
<polyline class="r" points="903,1018 960,1018 990,1025 1015,1040 1035,1000 1055,920 1075,870 1095,950 1115,1150 1135,1275 1155,1180 1180,960 1210,870 1240,900 1265,960 1290,1000 1320,1020 1360,1040 1400,1050 1440,1045 1498,1040"/>
</g></g>
<rect class="bl" x="1243.5" y="1303.3" width="8" height="70.7"/>
<text class="yl" x="991" y="1292.2">4</text><text class="yl" x="991" y="1315.5">2</text><text class="yl" x="991" y="1340.5">0</text><text class="yl" x="991" y="1365.5">-2</text><text class="yl" x="991" y="1390.5">-4</text><text class="yl" x="991" y="1415.5">-6</text><text class="yl" x="991" y="1438.5">-8</text>
<text class="xl" x="1033.2" y="1468">0</text><text class="xl" x="1179.2" y="1468">50</text><text class="xl" x="1325.1" y="1468">100</text>
<text class="e1" x="1006" y="1262">×</text><text class="e1" x="1034" y="1262">10</text><text class="e2" x="1079" y="1247">-7</text>
<text class="nm" x="1215" y="1303.3">SSB.00</text><text class="nm" x="1035" y="1314">PP</text>
<text class="sn" x="1033" y="1398.3">SNR=5.1</text><text class="az" x="1215" y="1400">337°, 146°</text>

<!-- SSB.10 -->
<rect class="bx" x="1472.5" y="1270" width="351" height="158"/>
<path class="tm" d="M1501.7,1428v-5M1647.7,1428v-5M1793.6,1428v-5M1501.7,1270v5M1647.7,1270v5M1793.6,1270v5M1472.5,1280h5M1823.5,1280h-5M1472.5,1305h5M1823.5,1305h-5M1472.5,1330h5M1823.5,1330h-5M1472.5,1355h5M1823.5,1355h-5M1472.5,1381.7h5M1823.5,1381.7h-5M1472.5,1408.3h5M1823.5,1408.3h-5"/>
<g clip-path="url(#k53)"><g transform="matrix(0.56796,0,0,0.33333,1403.2,990)">
<polyline class="g" points="175,1015 195,1040 210,1045 230,1010 245,995 265,1025 285,920 300,855 320,950 340,1130 362,1290 380,1200 405,990 430,880 455,880 480,950 510,1010 530,1030 545,975 570,965 590,960 610,1000 635,1060 655,1100 670,1070 700,1030 745,1050"/>
<polyline class="r" points="117,1018 200,1018 230,1035 250,1040 270,1000 290,880 300,855 320,960 345,1170 365,1290 385,1180 410,960 445,860 470,900 500,980 530,1010 560,1020 590,1035 630,1050 680,1050 745,1035"/>
</g></g>
<rect class="bl" x="1712" y="1302.7" width="8" height="71.3"/>
<text class="yl" x="1459.5" y="1290.5">4</text><text class="yl" x="1459.5" y="1315.5">2</text><text class="yl" x="1459.5" y="1340.5">0</text><text class="yl" x="1459.5" y="1365.5">-2</text><text class="yl" x="1459.5" y="1392.2">-4</text><text class="yl" x="1459.5" y="1418.8">-6</text>
<text class="xl" x="1501.7" y="1468">0</text><text class="xl" x="1647.7" y="1468">50</text><text class="xl" x="1793.6" y="1468">100</text>
<text class="e1" x="1474.5" y="1262">×</text><text class="e1" x="1502.5" y="1262">10</text><text class="e2" x="1547.5" y="1247">-7</text>
<text class="nm" x="1683.5" y="1303.3">SSB.10</text><text class="nm" x="1503.5" y="1314">PP</text>
<text class="sn" x="1501.5" y="1398.3">SNR=5</text><text class="az" x="1683.5" y="1400">337°, 146°</text>

<!-- TAOE.00 -->
<rect class="bx" x="1941" y="1270" width="351" height="158"/>
<path class="tm" d="M1970.2,1428v-5M2116.2,1428v-5M2262.1,1428v-5M1970.2,1270v5M2116.2,1270v5M2262.1,1270v5M1941,1301.7h5M2292,1301.7h-5M1941,1360h5M2292,1360h-5M1941,1420h5M2292,1420h-5"/>
<g clip-path="url(#k54)"><g transform="matrix(0.57541,0,0,0.33333,1398.4,990)">
<polyline class="g" points="995,1110 1020,1115 1045,1100 1070,1050 1090,1010 1110,1080 1130,1180 1155,1295 1175,1250 1200,1080 1220,950 1240,860 1260,930 1285,1060 1310,1120 1340,1140 1370,1150 1400,1130 1430,1120 1460,1110 1485,1130 1510,1150 1530,1120 1558,1100"/>
<polyline class="r" points="938,1105 1040,1105 1065,1080 1090,1045 1110,1090 1130,1200 1155,1275 1175,1230 1200,1070 1220,940 1240,860 1260,950 1285,1080 1310,1145 1335,1155 1360,1140 1380,1135 1400,1140 1430,1135 1460,1120 1500,1100 1558,1080"/>
</g></g>
<rect class="bl" x="2180.5" y="1319.3" width="8" height="70.7"/>
<text class="yl" x="1928" y="1312.2">2</text><text class="yl" x="1928" y="1370.5">0</text><text class="yl" x="1928" y="1430.5">-2</text>
<text class="xl" x="1970.2" y="1468">0</text><text class="xl" x="2116.2" y="1468">50</text><text class="xl" x="2262.1" y="1468">100</text>
<text class="e1" x="1943" y="1262">×</text><text class="e1" x="1971" y="1262">10</text><text class="e2" x="2016" y="1247">-6</text>
<text class="nm" x="2152" y="1315">TAOE.00</text><text class="nm" x="1972" y="1330">P</text>
<text class="sn" x="1970" y="1408.3">SNR=13.4</text><text class="az" x="2152" y="1410.7">90°, 52°</text>

<!-- ================= ROW 6 ================= -->
<!-- TRIS.00 -->
<rect class="bx" x="67" y="1516" width="351" height="155"/>
<path class="tm" d="M96.2,1671v-5M242.2,1671v-5M388.1,1671v-5M96.2,1516v5M242.2,1516v5M388.1,1516v5M67,1526.7h5M418,1526.7h-5M67,1600h5M418,1600h-5M67,1666.7h5M418,1666.7h-5"/>
<g clip-path="url(#k60)"><g transform="matrix(0.33333,0,0,0.33333,0,1460)">
<polyline class="g" points="275,400 285,460 300,465 320,460 340,470 360,455 380,465 400,460 420,410 445,350 465,330 490,430 520,520 560,600 580,590 600,520 630,400 660,270 680,200 705,195 725,185 745,250 770,350 800,420 830,430 860,430 880,390 900,375 930,390 960,410 990,430 1020,420 1050,400 1070,395 1100,420 1130,470 1160,530 1190,510 1220,480 1255,460"/>
<polyline class="r" points="195,405 300,407 360,415 380,415 400,395 430,340 465,315 490,345 510,420 540,530 560,580 580,605 600,560 630,420 660,320 690,280 715,265 740,280 770,330 810,380 850,405 900,415 950,425 1000,440 1050,448 1100,440 1150,430 1200,420 1255,410"/>
</g></g>
<rect class="bl" x="306.5" y="1559.3" width="8" height="70"/>
<text class="yl" x="54" y="1537.2">5</text><text class="yl" x="54" y="1610.5">0</text><text class="yl" x="54" y="1677.2">-5</text>
<text class="xl" x="96.2" y="1709">0</text><text class="xl" x="242.2" y="1709">50</text><text class="xl" x="388.1" y="1709">100</text>
<text class="e1" x="69" y="1508">×</text><text class="e1" x="97" y="1508">10</text><text class="e2" x="142" y="1493">-7</text>
<text class="nm" x="278" y="1558.3">TRIS.00</text><text class="nm" x="98" y="1571.7">PP</text>
<text class="sn" x="96" y="1650">SNR=2.8</text><text class="az" x="278" y="1651.7">181°, 128°</text>

<!-- UNM.00 -->
<rect class="bx" x="535.5" y="1516" width="351" height="155"/>
<path class="tm" d="M564.7,1671v-5M710.7,1671v-5M856.6,1671v-5M564.7,1516v5M710.7,1516v5M856.6,1516v5M535.5,1548.3h5M886.5,1548.3h-5M535.5,1583.3h5M886.5,1583.3h-5M535.5,1621.7h5M886.5,1621.7h-5M535.5,1661.7h5M886.5,1661.7h-5"/>
<g clip-path="url(#k61)"><g transform="matrix(0.5929,0,0,0.33333,9,1240)">
<polyline class="g" points="940,1010 960,1020 985,1030 1010,1050 1035,1010 1075,920 1100,1000 1130,1170 1155,1270 1180,1150 1205,920 1225,840 1250,880 1280,960 1310,1030 1340,1040 1370,1060 1400,1100 1420,1130 1440,1130 1460,1100 1485,1040"/>
<polyline class="r" points="883,1028 980,1030 1010,1045 1035,1010 1075,915 1100,1000 1130,1170 1155,1265 1180,1150 1205,900 1225,840 1250,880 1280,980 1305,1030 1340,1040 1380,1060 1420,1070 1460,1060 1485,1055"/>
</g></g>
<rect class="bl" x="775" y="1553.3" width="8" height="68.4"/>
<text class="yl" x="522.5" y="1558.8">5</text><text class="yl" x="522.5" y="1593.8">0</text><text class="yl" x="522.5" y="1632.2">-5</text><text class="yl" x="522.5" y="1672.2">-10</text>
<text class="xl" x="564.7" y="1709">0</text><text class="xl" x="710.7" y="1709">50</text><text class="xl" x="856.6" y="1709">100</text>
<text class="e1" x="537.5" y="1508">×</text><text class="e1" x="565.5" y="1508">10</text><text class="e2" x="610.5" y="1493">-7</text>
<text class="nm" x="746.5" y="1553.3">UNM.00</text><text class="nm" x="566.5" y="1564">PP</text>
<text class="sn" x="564.5" y="1643.3">SNR=11</text><text class="az" x="746.5" y="1646">72°, 99°</text>

<!-- Legend -->
<text class="lg" x="1943" y="1528">Type = P waves</text>
<text class="lg" x="1943" y="1557.5">Black=Data</text>
<text class="lg" x="1943" y="1587">Red=Model</text>
<text class="lg" x="1943" y="1616.5">Y = Displacement(m)</text>
<text class="lg" x="1982" y="1646">[0.009Hz 0.034Hz]</text>
<text class="lg" x="1943" y="1675.5">X = Time(s)</text>
</svg>
</body></html>
